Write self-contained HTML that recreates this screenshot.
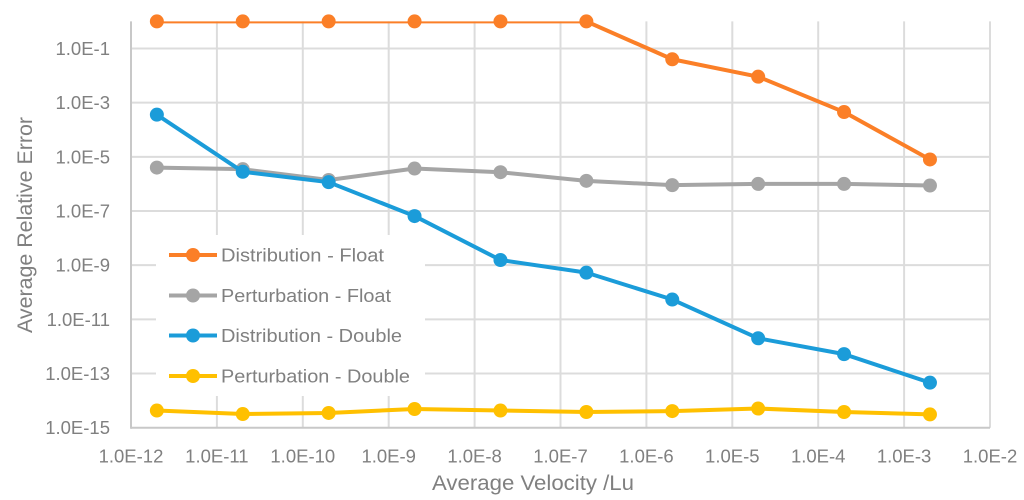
<!DOCTYPE html>
<html lang="en">
<head>
<meta charset="utf-8">
<title>Average Relative Error vs Average Velocity</title>
<style>
  html, body { margin: 0; padding: 0; background: #fff; }
  svg { display: block; font-family: "Liberation Sans", sans-serif; }
</style>
</head>
<body>
<svg id="chart" xmlns="http://www.w3.org/2000/svg" width="1024" height="500" viewBox="0 0 1024 500">
  <defs>
    <clipPath id="plot-clip"><rect x="131" y="21.4" width="859" height="407"/></clipPath>
  </defs>
  <rect width="1024" height="500" fill="#fff"/>
  <g id="grid"></g>
  <g id="axes"></g>
  <g id="series"></g>
  <g id="legend"></g>
  <text transform="translate(32,225) rotate(-90)" text-anchor="middle" font-size="21" fill="#808080" textLength="216" lengthAdjust="spacingAndGlyphs">Average Relative Error</text>
  <text x="533" y="490" text-anchor="middle" font-size="21" fill="#808080" textLength="202" lengthAdjust="spacingAndGlyphs">Average Velocity /Lu</text>
</svg>
<script>
const xTickValues = [1e-12, 1e-11, 1e-10, 1e-9, 1e-8, 1e-7, 1e-6, 1e-5, 1e-4, 1e-3, 1e-2];
const xTickLabels = ['1.0E-12', '1.0E-11', '1.0E-10', '1.0E-9', '1.0E-8', '1.0E-7', '1.0E-6', '1.0E-5', '1.0E-4', '1.0E-3', '1.0E-2'];
const yTickValues = [1e-15, 1e-13, 1e-11, 1e-9, 1e-7, 1e-5, 1e-3, 1e-1];
const yTickLabels = ['1.0E-15', '1.0E-13', '1.0E-11', '1.0E-9', '1.0E-7', '1.0E-5', '1.0E-3', '1.0E-1'];
const velocities = [2e-12, 2e-11, 2e-10, 2e-9, 2e-8, 2e-7, 2e-6, 2e-5, 2e-4, 2e-3];
const distributionFloat = [1, 1, 1, 1, 1, 1, 0.04, 0.0091, 4.5e-4, 8e-6];
const perturbationFloat = [4e-6, 3.5e-6, 1.4e-6, 3.7e-6, 2.7e-6, 1.3e-6, 9e-7, 1e-6, 1e-6, 8.7e-7];
const distributionDouble = [3.6e-4, 2.8e-6, 1.16e-6, 6.5e-8, 1.55e-9, 5.3e-10, 5.4e-11, 2e-12, 5.2e-13, 4.6e-14];
const perturbationDouble = [4.3e-15, 3.2e-15, 3.5e-15, 4.9e-15, 4.3e-15, 3.8e-15, 4.1e-15, 5.1e-15, 3.8e-15, 3.1e-15];
const seriesNames = ['Distribution - Float', 'Perturbation - Float', 'Distribution - Double', 'Perturbation - Double'];
const seriesSlugs = ['distribution-float', 'perturbation-float', 'distribution-double', 'perturbation-double'];
const seriesColors = ['#fb7f27', '#a5a5a5', '#1b9cd9', '#ffc000'];
const seriesValues = [distributionFloat, perturbationFloat, distributionDouble, perturbationDouble];

const SVGNS = 'http://www.w3.org/2000/svg';
const plotLeft = 131, plotRight = 990, plotTop = 21.4, plotBottom = 427.7;
const xScale = v => plotLeft + (Math.log10(v) + 12) / 10 * (plotRight - plotLeft);
const yScale = v => plotBottom - (Math.log10(v) + 15) / 15 * (plotBottom - plotTop);

function make(tag, attrs, parent) {
  const el = document.createElementNS(SVGNS, tag);
  for (const k in attrs) el.setAttribute(k, attrs[k]);
  parent.appendChild(el);
  return el;
}

const grid = document.getElementById('grid');
const axes = document.getElementById('axes');
const seriesGroup = document.getElementById('series');
const legend = document.getElementById('legend');

xTickValues.forEach((v, i) => {
  const x = xScale(v);
  if (i > 0 && i < xTickValues.length) {
    const line = make('line', { x1: x, x2: x, y1: plotTop, y2: plotBottom, stroke: '#dcdcdc', 'stroke-width': 2 }, grid);
    
    
  }
  const label = make('text', { x: x, y: 462.5, 'text-anchor': 'middle', 'font-size': 18.5, fill: '#808080' }, axes);
  
  
  label.textContent = xTickLabels[i];
});

yTickValues.forEach((v, i) => {
  const y = yScale(v);
  if (i > 0) {
    const line = make('line', { x1: plotLeft, x2: plotRight, y1: y, y2: y, stroke: '#dcdcdc', 'stroke-width': 2 }, grid);
    
    
  }
  const label = make('text', { x: 110, y: y + 6.5, 'text-anchor': 'end', 'font-size': 18.5, fill: '#808080' }, axes);
  
  
  label.textContent = yTickLabels[i];
});

const yAxisLine = make('line', { x1: plotLeft, x2: plotLeft, y1: plotTop, y2: plotBottom + 1, stroke: '#c8c8c8', 'stroke-width': 2 }, axes);


const xAxisLine = make('line', { x1: plotLeft, x2: plotRight, y1: plotBottom, y2: plotBottom, stroke: '#c8c8c8', 'stroke-width': 2 }, axes);



seriesValues.forEach((values, s) => {
  const g = make('g', {}, seriesGroup);
  
  
  const pts = values.map((v, i) => xScale(velocities[i]) + ',' + yScale(v)).join(' ');
  const line = make('polyline', { points: pts, fill: 'none', stroke: seriesColors[s], 'stroke-width': 4, 'stroke-linejoin': 'round', 'clip-path': 'url(#plot-clip)' }, g);
  
  
  values.forEach((v, i) => {
    const dot = make('circle', { cx: xScale(velocities[i]), cy: yScale(v), r: 7, fill: seriesColors[s] }, g);
    
    
  });
});

const legendBox = make('rect', { x: 156, y: 235, width: 269, height: 161, fill: '#fff' }, legend);


const legendRowY = [255, 295.5, 335.5, 376];
const legendTextWidths = [163, 170, 181, 189];
seriesNames.forEach((name, s) => {
  const g = make('g', {}, legend);
  
  
  const y = legendRowY[s];
  const swatch = make('line', { x1: 169, x2: 217, y1: y, y2: y, stroke: seriesColors[s], 'stroke-width': 4 }, g);
  
  
  const dot = make('circle', { cx: 193, cy: y, r: 7, fill: seriesColors[s] }, g);
  
  
  const text = make('text', { x: 221, y: y + 6.5, 'font-size': 18.5, fill: '#808080', textLength: legendTextWidths[s], lengthAdjust: 'spacingAndGlyphs' }, g);
  
  
  text.textContent = name;
});
</script>
</body>
</html>
